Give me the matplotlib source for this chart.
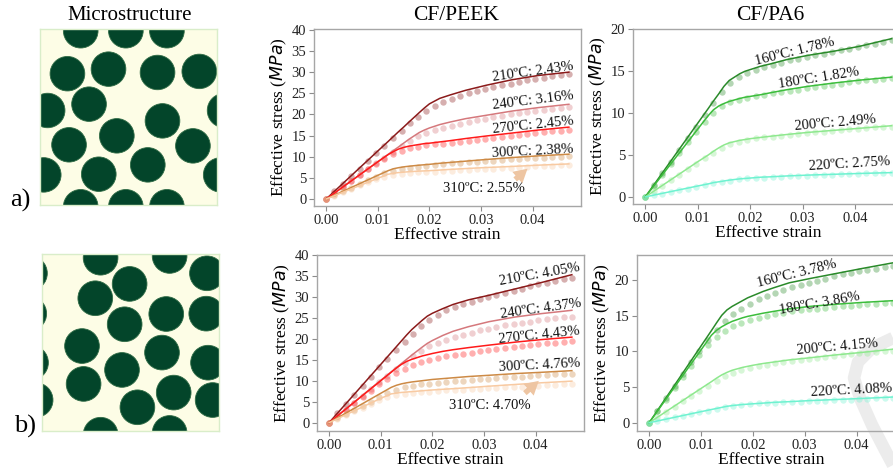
import matplotlib
matplotlib.use("Agg")
import matplotlib.pyplot as plt
from matplotlib.patches import Circle
from matplotlib.lines import Line2D

plt.rcParams['font.family'] = ['Liberation Serif', 'DejaVu Sans']
plt.rcParams['mathtext.fontset'] = 'dejavusans'

# ---------------- data ----------------
strain_exp = [0.0, 0.0016, 0.0032, 0.0049, 0.0065, 0.0081, 0.0097, 0.0113, 0.0130, 0.0146,
              0.0162, 0.0178, 0.0194, 0.0211, 0.0227, 0.0243, 0.0259, 0.0276, 0.0292, 0.0308,
              0.0324, 0.0340, 0.0357, 0.0373, 0.0389, 0.0405, 0.0421, 0.0438, 0.0454, 0.0470]
strain_model = [0.0, 0.010, 0.012, 0.013, 0.014, 0.015, 0.016, 0.018, 0.019, 0.020,
                0.022, 0.024, 0.027, 0.031, 0.036, 0.041, 0.047]

peek_temps = [210, 240, 270, 300, 310]
pa6_temps = [160, 180, 200, 220]
peek_err_a = ["2.43", "3.16", "2.45", "2.38", "2.55"]
peek_err_b = ["4.05", "4.37", "4.43", "4.76", "4.70"]
pa6_err_a = ["1.78", "1.82", "2.49", "2.75"]
pa6_err_b = ["3.78", "3.86", "4.15", "4.08"]

# CF/PEEK, row a
peek_a_model_210 = [0, 11.35, 13.6, 14.75, 15.9, 17.0, 18.15, 20.4, 21.5, 22.5, 23.8, 24.6, 25.7, 26.9, 28.2, 29.2, 30.0]
peek_a_model_240 = [0, 8.8, 10.55, 11.45, 12.3, 13.2, 14.1, 15.7, 16.3, 16.8, 17.6, 18.2, 19.0, 19.8, 20.8, 21.6, 22.4]
peek_a_model_270 = [0, 8.8, 10.5, 11.2, 11.8, 12.2, 12.5, 12.9, 13.1, 13.2, 13.5, 13.8, 14.3, 14.9, 15.6, 16.3, 17.0]
peek_a_model_300 = [0, 5.6, 6.7, 7.15, 7.4, 7.6, 7.75, 8.0, 8.1, 8.2, 8.45, 8.65, 8.95, 9.35, 9.8, 10.2, 10.6]
peek_a_model_310 = [0, 4.9, 5.85, 6.1, 6.25, 6.35, 6.45, 6.6, 6.65, 6.7, 6.85, 7.0, 7.2, 7.45, 7.7, 8.0, 8.3]
peek_a_exp_210 = [0, 1.8, 3.6, 5.4, 7.2, 9.0, 10.8, 12.6, 14.4, 16.2, 17.9, 19.5, 20.9, 22.1, 23.0, 23.7, 24.4, 25.0, 25.5, 26.0,
                  26.5, 26.9, 27.3, 27.7, 28.1, 28.4, 28.7, 29.0, 29.3, 29.5]
peek_a_exp_240 = [0, 1.4, 2.8, 4.2, 5.6, 7.0, 8.4, 9.8, 11.2, 12.6, 13.8, 14.9, 15.7, 16.3, 16.8, 17.3, 17.8, 18.2, 18.6, 19.0,
                  19.4, 19.7, 20.0, 20.3, 20.6, 20.9, 21.1, 21.3, 21.5, 21.7]
peek_a_exp_270 = [0, 1.4, 2.8, 4.2, 5.6, 7.0, 8.3, 9.5, 10.6, 11.4, 12.0, 12.4, 12.7, 12.9, 13.1, 13.3, 13.5, 13.8, 14.0, 14.2,
                  14.5, 14.7, 14.9, 15.2, 15.4, 15.6, 15.8, 16.0, 16.2, 16.4]
peek_a_exp_300 = [0, 0.9, 1.8, 2.7, 3.6, 4.5, 5.3, 6.1, 6.7, 7.1, 7.4, 7.6, 7.8, 8.0, 8.2, 8.4, 8.5, 8.7, 8.8, 9.0,
                  9.1, 9.3, 9.4, 9.5, 9.6, 9.7, 9.8, 9.9, 10.0, 10.1]
peek_a_exp_310 = [0, 0.8, 1.6, 2.4, 3.2, 4.0, 4.7, 5.3, 5.7, 6.0, 6.2, 6.3, 6.4, 6.5, 6.6, 6.7, 6.8, 6.9, 7.0, 7.1,
                  7.2, 7.3, 7.4, 7.5, 7.6, 7.7, 7.8, 7.9, 8.0, 8.1]

# CF/PA6, row a
pa6_a_model_160 = [0, 8.8, 10.55, 11.45, 12.3, 13.2, 13.9, 14.7, 15.0, 15.2, 15.6, 15.9, 16.4, 16.9, 17.4, 18.0, 18.9]
pa6_a_model_180 = [0, 8.1, 9.7, 10.4, 10.85, 11.15, 11.4, 11.75, 11.9, 12.0, 12.2, 12.45, 12.8, 13.2, 13.6, 13.95, 14.3]
pa6_a_model_200 = [0, 4.2, 5.0, 5.45, 5.85, 6.2, 6.45, 6.75, 6.85, 6.95, 7.1, 7.25, 7.45, 7.7, 7.95, 8.2, 8.5]
pa6_a_model_220 = [0, 1.3, 1.55, 1.7, 1.8, 1.9, 2.0, 2.15, 2.2, 2.25, 2.35, 2.4, 2.5, 2.6, 2.7, 2.8, 2.9]
pa6_a_exp_160 = [0, 1.4, 2.8, 4.2, 5.6, 7.0, 8.4, 9.8, 11.2, 12.5, 13.6, 14.3, 14.8, 15.2, 15.5, 15.8, 16.0, 16.3, 16.5, 16.7,
                 16.9, 17.1, 17.3, 17.5, 17.7, 17.9, 18.1, 18.3, 18.5, 18.7]
pa6_a_exp_180 = [0, 1.3, 2.6, 3.9, 5.2, 6.5, 7.8, 9.0, 10.0, 10.8, 11.3, 11.6, 11.8, 12.0, 12.2, 12.4, 12.5, 12.7, 12.8, 13.0,
                 13.1, 13.3, 13.4, 13.5, 13.7, 13.8, 13.9, 14.0, 14.1, 14.2]
pa6_a_exp_200 = [0, 0.65, 1.3, 2.0, 2.65, 3.3, 3.95, 4.6, 5.2, 5.8, 6.3, 6.6, 6.8, 7.0, 7.1, 7.2, 7.3, 7.4, 7.5, 7.6,
                 7.7, 7.8, 7.9, 8.0, 8.05, 8.1, 8.2, 8.3, 8.35, 8.4]
pa6_a_exp_220 = [0, 0.2, 0.4, 0.6, 0.8, 1.0, 1.2, 1.4, 1.6, 1.8, 1.95, 2.1, 2.2, 2.25, 2.3, 2.35, 2.4, 2.45, 2.5, 2.55,
                 2.6, 2.62, 2.65, 2.7, 2.72, 2.75, 2.8, 2.82, 2.85, 2.9]

# CF/PEEK, row b
peek_b_model_210 = [0, 13.9, 16.7, 18.1, 19.5, 20.9, 22.2, 24.4, 25.4, 26.1, 27.2, 28.2, 29.3, 30.4, 31.9, 33.4, 35.3]
peek_b_model_240 = [0, 10.1, 12.1, 13.1, 14.1, 15.1, 16.1, 18.0, 18.9, 19.6, 20.8, 21.8, 22.9, 24.1, 25.2, 26.0, 26.8]
peek_b_model_270 = [0, 10.0, 12.0, 13.0, 13.9, 14.6, 15.1, 15.9, 16.2, 16.5, 17.0, 17.4, 17.9, 18.5, 19.2, 19.8, 20.4]
peek_b_model_300 = [0, 7.0, 8.4, 8.9, 9.25, 9.5, 9.7, 10.0, 10.15, 10.3, 10.5, 10.7, 11.0, 11.3, 11.7, 12.0, 12.4]
peek_b_model_310 = [0, 5.8, 6.85, 7.05, 7.2, 7.3, 7.4, 7.6, 7.7, 7.8, 7.95, 8.1, 8.35, 8.7, 9.1, 9.5, 9.9]
peek_b_exp_210 = [0, 2.2, 4.4, 6.6, 8.8, 11.0, 13.2, 15.3, 17.3, 19.3, 21.2, 23.0, 24.6, 25.8, 26.8, 27.6, 28.3, 28.9, 29.5, 30.0,
                  30.5, 31.0, 31.5, 32.0, 32.5, 33.0, 33.4, 33.8, 34.2, 34.6]
peek_b_exp_240 = [0, 1.6, 3.2, 4.8, 6.4, 8.0, 9.6, 11.2, 12.8, 14.3, 15.8, 17.1, 18.2, 19.1, 19.8, 20.4, 21.0, 21.5, 22.0, 22.4,
                  22.8, 23.2, 23.5, 23.8, 24.1, 24.4, 24.7, 24.9, 25.1, 25.3]
peek_b_exp_270 = [0, 1.55, 3.1, 4.6, 6.1, 7.6, 9.1, 10.5, 11.8, 12.9, 13.8, 14.5, 15.0, 15.4, 15.8, 16.1, 16.4, 16.7, 17.0, 17.3,
                  17.6, 17.8, 18.1, 18.3, 18.5, 18.7, 18.9, 19.1, 19.3, 19.5]
peek_b_exp_300 = [0, 1.0, 2.0, 3.0, 4.0, 5.0, 6.0, 7.0, 7.8, 8.4, 8.8, 9.1, 9.3, 9.5, 9.7, 9.9, 10.0, 10.2, 10.3, 10.5,
                  10.6, 10.8, 10.9, 11.0, 11.2, 11.3, 11.4, 11.5, 11.6, 11.7]
peek_b_exp_310 = [0, 0.9, 1.8, 2.7, 3.6, 4.5, 5.3, 6.0, 6.5, 6.8, 7.0, 7.2, 7.4, 7.5, 7.7, 7.8, 7.9, 8.0, 8.1, 8.2,
                  8.3, 8.4, 8.5, 8.6, 8.7, 8.8, 8.9, 9.0, 9.1, 9.2]

# CF/PA6, row b
pa6_b_model_160 = [0, 10.75, 12.9, 14.0, 15.05, 15.8, 16.3, 17.1, 17.5, 17.8, 18.4, 18.9, 19.6, 20.2, 20.9, 21.6, 22.4]
pa6_b_model_180 = [0, 10.2, 12.25, 12.95, 13.45, 13.85, 14.2, 14.7, 14.9, 15.05, 15.35, 15.6, 15.95, 16.3, 16.6, 16.85, 17.1]
pa6_b_model_200 = [0, 4.8, 5.75, 6.25, 6.7, 7.05, 7.35, 7.75, 7.9, 8.05, 8.3, 8.5, 8.8, 9.1, 9.5, 9.85, 10.3]
pa6_b_model_220 = [0, 1.55, 1.85, 2.0, 2.15, 2.3, 2.4, 2.55, 2.6, 2.65, 2.75, 2.85, 2.95, 3.1, 3.25, 3.4, 3.6]
pa6_b_exp_160 = [0, 1.7, 3.4, 5.1, 6.8, 8.5, 10.1, 11.6, 13.0, 14.2, 15.2, 16.0, 16.7, 17.3, 17.8, 18.2, 18.6, 19.0, 19.3, 19.6,
                 19.9, 20.2, 20.5, 20.8, 21.0, 21.2, 21.4, 21.6, 21.8, 22.0]
pa6_b_exp_180 = [0, 1.6, 3.2, 4.8, 6.4, 8.0, 9.5, 10.9, 12.0, 12.9, 13.5, 14.0, 14.4, 14.7, 15.0, 15.2, 15.4, 15.6, 15.8, 15.9,
                 16.0, 16.1, 16.2, 16.3, 16.4, 16.5, 16.6, 16.7, 16.75, 16.8]
pa6_b_exp_200 = [0, 0.75, 1.5, 2.25, 3.0, 3.75, 4.5, 5.2, 5.9, 6.5, 7.0, 7.4, 7.7, 7.95, 8.15, 8.35, 8.5, 8.65, 8.8, 8.95,
                 9.1, 9.2, 9.35, 9.45, 9.6, 9.7, 9.8, 9.9, 10.0, 10.1]
pa6_b_exp_220 = [0, 0.25, 0.5, 0.75, 1.0, 1.25, 1.5, 1.7, 1.95, 2.15, 2.35, 2.5, 2.6, 2.7, 2.75, 2.8, 2.85, 2.9, 2.95, 3.0,
                 3.05, 3.1, 3.15, 3.2, 3.25, 3.3, 3.35, 3.4, 3.45, 3.5]

# microstructure fibre centres (fractions of the unit cell) and radius
fibre_a_x = [0.230, 0.485, 0.717, 0.155, 0.387, 0.664, 0.900, 0.043, 0.277, 0.692, 0.434, 0.164, 0.864, 0.609, 0.332, 0.021]
fibre_a_y = [0.990, 0.990, 0.990, 0.746, 0.772, 0.753, 0.759, 0.537, 0.573, 0.478, 0.393, 0.342, 0.336, 0.228, 0.175, 0.171]
fibre_b_x = [0.331, 0.721, 0.932, 0.495, 0.301, 0.467, 0.702, 0.928, 0.226, 0.678, 0.938, 0.452, 0.235, 0.744, 0.539, 0.964]
fibre_b_y = [0.979, 0.989, 0.891, 0.831, 0.750, 0.603, 0.661, 0.663, 0.480, 0.443, 0.386, 0.345, 0.266, 0.217, 0.134, 0.175]
fibre_radius = 0.098

peek_colors = ['#8b1a1a', '#d5787c', '#ff1a1a', '#cd8a45', '#f8caa2']
pa6_colors = ['#2a8a2a', '#3cbd3c', '#8ee88e', '#6ef2d0']

# ---------------- figure ----------------
W, H = 893, 473
fig = plt.figure(figsize=(W / 100, H / 100), dpi=100)
fig.patch.set_facecolor('white')


def add_ax(left, top, right, bottom):
    return fig.add_axes([left / W, 1 - bottom / H, (right - left) / W, (bottom - top) / H])


def micro(ax, xs, ys, r):
    ax.set_xlim(0, 1)
    ax.set_ylim(0, 1)
    ax.set_facecolor('#fdfde6')
    for s in ax.spines.values():
        s.set_color('#d9edc9')
        s.set_linewidth(1.0)
    ax.set_xticks([])
    ax.set_yticks([])
    for x, y in zip(xs, ys):
        for dx in (-1, 0, 1):
            for dy in (-1, 0, 1):
                c = Circle((x + dx, y + dy), r, facecolor='#03452a', edgecolor='#2f6b45', lw=0.6)
                c.set_clip_path(ax.patch)
                ax.add_patch(c)


def style(ax, xlim, ylim, yticks):
    ax.set_xlim(*xlim)
    ax.set_ylim(*ylim)
    ax.set_xticks([0.0, 0.01, 0.02, 0.03, 0.04])
    ax.set_xticklabels(['0.00', '0.01', '0.02', '0.03', '0.04'])
    ax.set_yticks(yticks)
    for s in ax.spines.values():
        s.set_color('#a6a6a6')
        s.set_linewidth(1.0)
    ax.tick_params(direction='out', length=3.5, width=0.8, color='#8c8c8c', labelsize=10.5,
                   labelcolor='#222222', pad=2)
    ax.set_xlabel('Effective strain', fontsize=12.5, labelpad=0)
    ax.set_ylabel('Effective stress ($MPa$)', fontsize=12.5, labelpad=2)


def curves(ax, models, exps, colors):
    for m, e, c in zip(models, exps, colors):
        ax.plot(strain_exp, e, 'o', color=c, alpha=0.35, ms=4.6, mec='none', zorder=2)
    for m, e, c in zip(models, exps, colors):
        ax.plot(strain_model, m, '-', color=c, lw=1.1, zorder=3)


def labels(ax, texts, pos, rots):
    for t, (x, y), r in zip(texts, pos, rots):
        ax.text(x, y, t, fontsize=10.5, ha='center', va='center', rotation=r,
                rotation_mode='anchor', color='#111111', zorder=5)


ARROW = dict(arrowstyle='simple,head_length=0.75,head_width=0.85,tail_width=0.3',
             color='#eec5a2', lw=0, mutation_scale=13)

# microstructures
ax_ma = add_ax(40, 29, 217, 205)
micro(ax_ma, fibre_a_x, fibre_a_y, fibre_radius)
ax_mb = add_ax(42, 254, 219, 431)
micro(ax_mb, fibre_b_x, fibre_b_y, fibre_radius)

fig.text(130 / W, 1 - 16 / H, 'Microstructure', fontsize=15, ha='center', va='center')
fig.text(456 / W, 1 - 16 / H, 'CF/PEEK', fontsize=15.5, ha='center', va='center')
fig.text(770 / W, 1 - 16 / H, 'CF/PA6', fontsize=15.5, ha='center', va='center')
fig.text(20 / W, 1 - 200 / H, 'a)', fontsize=19, ha='center', va='center')
fig.text(25 / W, 1 - 426 / H, 'b)', fontsize=19, ha='center', va='center')

xl = (-0.00235, 0.04935)

# CF/PEEK a
ax1 = add_ax(314, 29, 581, 206)
curves(ax1, [peek_a_model_210, peek_a_model_240, peek_a_model_270, peek_a_model_300, peek_a_model_310],
       [peek_a_exp_210, peek_a_exp_240, peek_a_exp_270, peek_a_exp_300, peek_a_exp_310], peek_colors)
style(ax1, xl, (-1.65, 40.2), [0, 5, 10, 15, 20, 25, 30, 35, 40])
txt = ['%dºC: %s%%' % (t, e) for t, e in zip(peek_temps, peek_err_a)]
labels(ax1, txt[:4], [(0.0400, 30.0), (0.0401, 23.4), (0.0400, 17.5), (0.0399, 11.35)], [8, 7, 6, 3])
ax1.text(0.0305, 2.4, txt[4], fontsize=10.5, ha='center', va='center', color='#111111')
ax1.annotate('', xy=(0.0394, 7.6), xytext=(0.0362, 4.2), arrowprops=ARROW)

# CF/PA6 a
ax2 = add_ax(633, 29, 633 + 271, 204)
ax2.set_facecolor('none')
curves(ax2, [pa6_a_model_160, pa6_a_model_180, pa6_a_model_200, pa6_a_model_220],
       [pa6_a_exp_160, pa6_a_exp_180, pa6_a_exp_200, pa6_a_exp_220], pa6_colors)
style(ax2, xl, (-0.85, 20.05), [0, 5, 10, 15, 20])
txt = ['%dºC: %s%%' % (t, e) for t, e in zip(pa6_temps, pa6_err_a)]
labels(ax2, txt, [(0.0285, 17.3), (0.0330, 14.2), (0.0363, 8.85), (0.0389, 3.96)], [14, 9, 5, 3.5])

# CF/PEEK b
ax3 = add_ax(317, 255, 584, 431)
curves(ax3, [peek_b_model_210, peek_b_model_240, peek_b_model_270, peek_b_model_300, peek_b_model_310],
       [peek_b_exp_210, peek_b_exp_240, peek_b_exp_270, peek_b_exp_300, peek_b_exp_310], peek_colors)
style(ax3, xl, (-2.0, 40.0), [0, 5, 10, 15, 20, 25, 30, 35, 40])
txt = ['%dºC: %s%%' % (t, e) for t, e in zip(peek_temps, peek_err_b)]
labels(ax3, txt[:4], [(0.0408, 35.4), (0.0410, 27.1), (0.0407, 20.8), (0.0408, 13.6)], [10, 8, 6, 3])
ax3.text(0.0311, 4.06, txt[4], fontsize=10.5, ha='center', va='center', color='#111111')
ax3.annotate('', xy=(0.0410, 10.4), xytext=(0.0375, 6.6), arrowprops=ARROW)

# CF/PA6 b
ax4 = add_ax(637, 255, 637 + 268, 431)
ax4.set_facecolor('none')
curves(ax4, [pa6_b_model_160, pa6_b_model_180, pa6_b_model_200, pa6_b_model_220],
       [pa6_b_exp_160, pa6_b_exp_180, pa6_b_exp_200, pa6_b_exp_220], pa6_colors)
style(ax4, xl, (-1.16, 23.5), [0, 5, 10, 15, 20])
txt = ['%dºC: %s%%' % (t, e) for t, e in zip(pa6_temps, pa6_err_b)]
labels(ax4, txt, [(0.0284, 20.85), (0.0329, 16.65), (0.0363, 10.6), (0.0390, 4.6)], [14, 10, 5, 3])

# faint watermark stroke in the lower-right corner (behind the plot)
wx = [893, 872, 858, 854, 860, 872, 885, 893]
wy = [338, 348, 362, 378, 398, 425, 450, 465]
fig.add_artist(Line2D([v / W for v in wx], [1 - v / H for v in wy], transform=fig.transFigure,
                      color='#ececec', lw=9, solid_capstyle='butt', zorder=-1))

fig.savefig('out.png', dpi=100, facecolor='white')
